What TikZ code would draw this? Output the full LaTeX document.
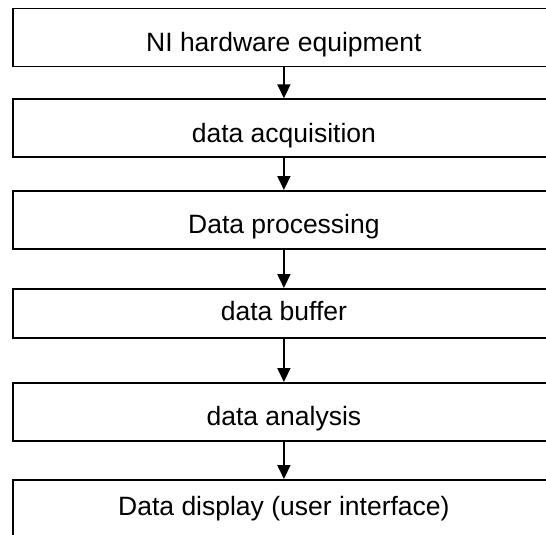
\documentclass[tikz,border=0pt]{standalone}
\usepackage{fontspec}
\setmainfont{Liberation Sans}
\usetikzlibrary{arrows.meta}
\begin{document}
\begin{tikzpicture}[x=1pt,y=-1pt,
  stage/.style={draw, line width=1.8pt, minimum width=542pt, inner sep=0pt,
    anchor=north west, font=\fontsize{26.5}{30}\selectfont,
    text height=43pt, text depth=15pt},
  flow/.style={-{Triangle[length=14pt,width=13pt]}, line width=1.8pt}]
\useasboundingbox (0,0) rectangle (546,535);
\node[stage] (s1) at (12,7.7)  {NI hardware equipment};
\node[stage] (s2) at (12,98.3) {data acquisition};
\node[stage] (s3) at (12,190)  {Data processing};
\node[stage, text height=32pt, text depth=17pt] (s4) at (12,288) {data buffer};
\node[stage] (s5) at (12,382)  {data analysis};
\node[stage, text height=36pt, text depth=22pt] (s6) at (12,479) {Data display (user interface)};
\draw[flow] (s1.south) -- (s2.north);
\draw[flow] (s2.south) -- (s3.north);
\draw[flow] (s3.south) -- (s4.north);
\draw[flow] (s4.south) -- (s5.north);
\draw[flow] (s5.south) -- (s6.north);
\end{tikzpicture}
\end{document}
